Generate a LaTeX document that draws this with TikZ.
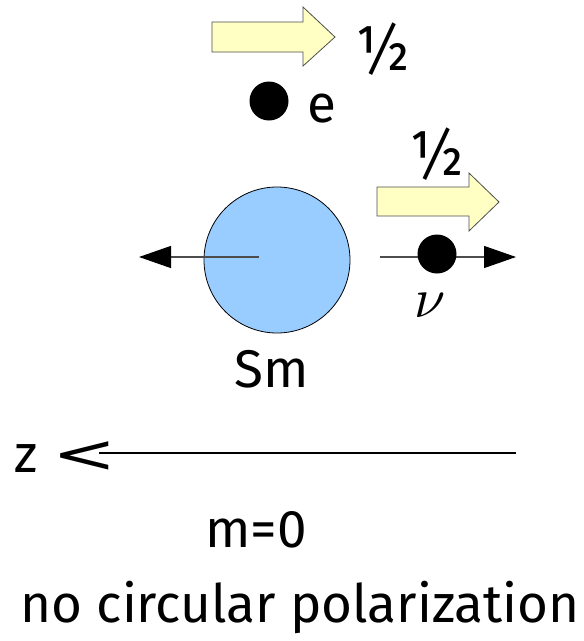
\documentclass[tikz,border=0pt]{standalone}
\usepackage{fontspec}
\setmainfont{Fira Sans}
\newfontfamily\symfont{DejaVu Sans}
\usetikzlibrary{arrows.meta}
\definecolor{arrowfill}{HTML}{FFFFC4}
\definecolor{smblue}{HTML}{99CCFF}
\definecolor{linegray}{HTML}{4D4D4D}
\tikzset{
  lbl/.style={inner sep=0pt, anchor=base, font=\fontsize{53}{53}\selectfont},
  blockarrow/.style={fill=arrowfill, draw=linegray, line width=0.8pt, line join=miter},
  dot/.style={circle, fill=black, inner sep=0pt, minimum size=39pt},
  motion/.style={draw=linegray, line width=1.3pt, -{Triangle[length=32pt,width=22pt,color=black]}},
}
\begin{document}
\begin{tikzpicture}[x=1pt,y=-1pt]
\useasboundingbox (0,0) rectangle (584,641);
% top spin arrow (electron)
\draw[blockarrow] (212,22) -- (303,22) -- (303,7) -- (335,37) -- (303,66) -- (303,52) -- (212,52) -- cycle;
\node[lbl] (halfe) at (383,70) {\scalebox{1.1}[1.2]{½}};
\node[dot] (e) at (269,101) {};
\node[lbl] (elbl) at (322,122) {e};
% neutrino spin arrow
\draw[blockarrow] (377,187) -- (469,187) -- (469,173) -- (499,202) -- (469,231) -- (469,216) -- (377,216) -- cycle;
\node[lbl] (halfnu) at (437,175) {\scalebox{1.1}[1.2]{½}};
% Sm
\node[circle, fill=smblue, draw=black, line width=0.8pt, minimum size=146pt, inner sep=0pt] (sm) at (277,260) {};
\coordinate (smtip) at (139,257);
\draw[motion] (259,257) -- (smtip);
\node[lbl] (smlbl) at (272,387) {Sm};
% neutrino
\coordinate (nustart) at (380,257);
\coordinate (nutip) at (516,257);
\draw[motion] (nustart) -- (nutip);
\node[dot] (nu) at (437,254) {};
\node[inner sep=0pt, anchor=base] (nulbl) at (430,317) {\scalebox{5.6}{$\nu$}};
% z axis
\node[lbl, anchor=base west] (zlbl) at (14,472) {z};
\node[inner sep=0pt, anchor=base, font=\fontsize{53}{53}\symfont] (ltsign) at (85,472) {\scalebox{1.45}[1]{<}};
\coordinate (zstart) at (99,453);
\coordinate (zend) at (516,453);
\draw[line width=1.2pt] (zstart) -- (zend);
\node[lbl] (mlbl) at (256,547) {m=0};
\node[lbl] (pol) at (300,622) {no circular polarization};
\end{tikzpicture}
\end{document}
